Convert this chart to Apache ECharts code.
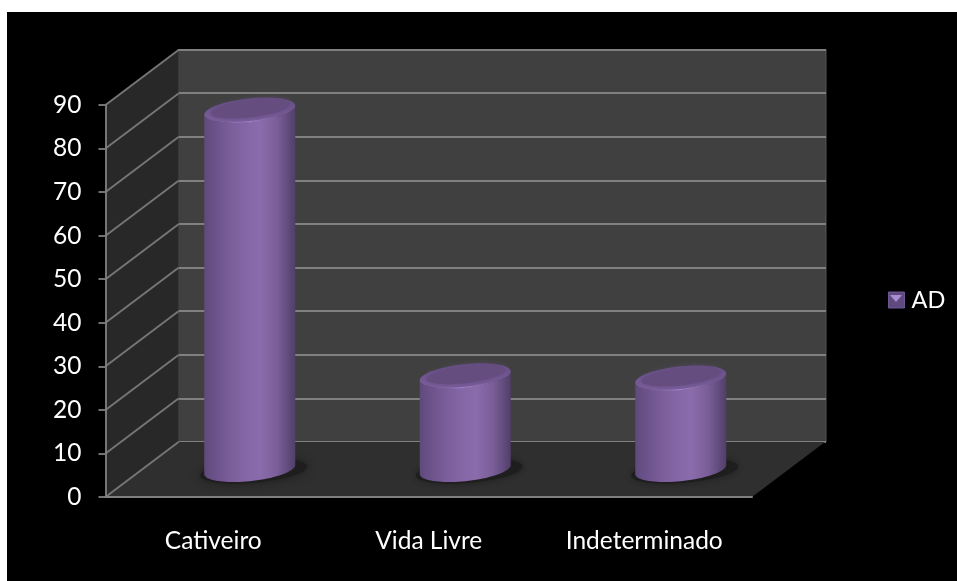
<!DOCTYPE html>
<html><head><meta charset="utf-8">
<style>html,body{margin:0;padding:0;background:#fff;overflow:hidden}
#c{position:absolute;left:7px;top:12px;width:950px;height:569px;background:#000}</style>
<script src="https://cdn.jsdelivr.net/npm/echarts@6/dist/echarts.min.js"></script>
</head><body><div id="c"></div>
<script>
const categories = ['Cativeiro', 'Vida Livre', 'Indeterminado'];
const seriesName = 'AD';
const values = [82.5, 21.5, 21];
const yTicks = [0, 10, 20, 30, 40, 50, 60, 70, 80, 90];

const DX = 73, DY = -55;          // depth of the fake 3D box, px
const W = 45.5, H = 11.7, S = -4.5; // cylinder end ellipse
const FONT = 'Lato';
const FS = 24.5;

function ellipse(cx, cy, w, h, s, from, to, n) {
  const pts = [];
  for (let i = 0; i <= n; i++) {
    const t = from + (to - from) * i / n;
    pts.push([cx + w * Math.cos(t), cy + h * Math.sin(t) + s * Math.cos(t)]);
  }
  return pts;
}

function renderBox(params, api) {
  const g = params.coordSys;
  const tick = api.value(1);
  const y = api.coord([0, tick])[1];
  const x0 = g.x, x1 = g.x + g.width, yb = g.y + g.height, yt = g.y;
  const children = [];
  if (params.dataIndex === 0) {
    children.push({type: 'polygon', shape: {points: [[x0, yb], [x0, yt], [x0 + DX, yt + DY], [x0 + DX, yb + DY]]},
      style: {fill: '#282828'}});
    children.push({type: 'polygon', shape: {points: [[x0, yb], [x1, yb], [x1 + DX, yb + DY], [x0 + DX, yb + DY]]},
      style: {fill: '#2f2f2f'}});
  }
  children.push({type: 'line', z2: 5, shape: {x1: x0, y1: y, x2: x0 + DX, y2: y + DY},
    style: {stroke: '#767676', lineWidth: 1.9}});
  return {type: 'group', children};
}

function renderCyl(params, api) {
  const i = api.value(0);
  const top = api.coord([i, api.value(1)]);
  const base = api.coord([i, 0]);
  const cx = top[0] + DX / 2;
  const cyT = top[1] + DY / 2, cyB = base[1] + DY / 2;
  const lower = ellipse(cx, cyB, W, H, S, 0, Math.PI, 40);
  const upper = ellipse(cx, cyT, W, H, S, Math.PI, 0, 40);
  const bodyFill = new echarts.graphic.LinearGradient(0, 0, 1, 0, [
    {offset: 0, color: '#5f4a7b'}, {offset: 0.06, color: '#664e84'}, {offset: 0.25, color: '#775b97'},
    {offset: 0.45, color: '#8466a6'}, {offset: 0.62, color: '#8a6bab'}, {offset: 0.8, color: '#7a5e98'},
    {offset: 0.93, color: '#5f4a7b'}, {offset: 1, color: '#503f68'}]);
  const rim = new echarts.graphic.LinearGradient(0, 0, 0, 1, [
    {offset: 0, color: '#664d84'}, {offset: 1, color: '#7c5f9e'}]);
  const glow = new echarts.graphic.LinearGradient(0, 0, 1, 0, [
    {offset: 0.15, color: 'rgba(160,130,200,0)'}, {offset: 0.5, color: 'rgba(165,135,210,0.9)'},
    {offset: 0.85, color: 'rgba(160,130,200,0)'}]);
  return {type: 'group', children: [
    {type: 'polygon', shape: {points: ellipse(cx + 4, cyB + 1.5, W + 8, H, S, 0, Math.PI * 2, 60)},
      style: {fill: '#1e1e1e', shadowBlur: 10, shadowColor: '#1e1e1e'}},
    {type: 'polygon', shape: {points: lower.concat(upper)}, style: {fill: bodyFill}},
    {type: 'polygon', shape: {points: ellipse(cx, cyT, W, H, S, 0, Math.PI * 2, 60)}, style: {fill: rim}},
    {type: 'polygon', shape: {points: ellipse(cx + 0.5, cyT - 1.5, W - 6, H - 3, S, 0, Math.PI * 2, 60)},
      style: {fill: '#654d80', shadowBlur: 5, shadowColor: '#654d80'}},
    {type: 'polyline', shape: {points: ellipse(cx, cyT, W - 1, H - 0.3, S, 0.2, Math.PI - 0.2, 30)},
      style: {fill: null, stroke: glow, lineWidth: 1.2}}
  ]};
}

const chart = echarts.init(document.getElementById('c'), null, {renderer: 'canvas'});
chart.setOption({
  animation: false,
  backgroundColor: '#000',
  textStyle: {fontFamily: FONT},
  legend: {
    left: 881, top: 276, padding: 0, itemWidth: 16, itemHeight: 16, itemGap: 0, selectedMode: false,
    textStyle: {color: '#fff', fontSize: 23.5, fontFamily: FONT, padding: [0, 0, 0, 2]},
    data: [{name: seriesName, icon: 'rect', itemStyle: {color: '#5f4a80', borderColor: '#6f5794', borderWidth: 1}}]
  },
  grid: [
    {left: 98.5, top: 93, width: 646.5, height: 392},
    {left: 171, top: 37.5, width: 648, height: 392.5, show: true, backgroundColor: '#404040', borderWidth: 1, borderColor: '#555', z: 0}
  ],
  xAxis: [
    {type: 'category', gridIndex: 0, data: categories, z: 6,
      axisLine: {lineStyle: {color: '#808080', width: 2}},
      axisTick: {length: 8, lineStyle: {color: '#808080', width: 1.5}},
      axisLabel: {color: '#fff', fontSize: FS, margin: 32, fontFamily: FONT}},
    {type: 'category', gridIndex: 1, data: categories, show: false}
  ],
  yAxis: [
    {type: 'value', gridIndex: 0, min: yTicks[0], max: yTicks[yTicks.length - 1], interval: yTicks[1] - yTicks[0], z: 6,
      splitLine: {show: false},
      axisLine: {show: true, lineStyle: {color: '#808080', width: 1.8}},
      axisTick: {show: true, length: 7, lineStyle: {color: '#808080', width: 1.8}},
      axisLabel: {color: '#fff', fontSize: FS, margin: 24, fontFamily: FONT, padding: [3, 0, 0, 0]}},
    {type: 'value', gridIndex: 1, min: yTicks[0], max: yTicks[yTicks.length - 1], interval: yTicks[1] - yTicks[0],
      axisLine: {show: false}, axisTick: {show: false}, axisLabel: {show: false},
      splitLine: {show: true, lineStyle: {color: '#808080', width: 2.2}}}
  ],
  series: [
    {type: 'custom', name: 'box', xAxisIndex: 0, yAxisIndex: 0, z: 1, silent: true, clip: false,
      renderItem: renderBox, data: yTicks.map(t => [0, t]), encode: {x: 0, y: 1}},
    {type: 'custom', name: seriesName, xAxisIndex: 0, yAxisIndex: 0, z: 3, clip: false,
      itemStyle: {color: '#6a5088'},
      renderItem: renderCyl, data: values.map((v, i) => [i, v]), encode: {x: 0, y: 1}}
  ],
  graphic: [
    {type: 'polygon', z: 100, shape: {points: [[883, 283], [895, 283], [889, 290]]}, style: {fill: '#a88ed0'}}
  ]
});
</script></body></html>
